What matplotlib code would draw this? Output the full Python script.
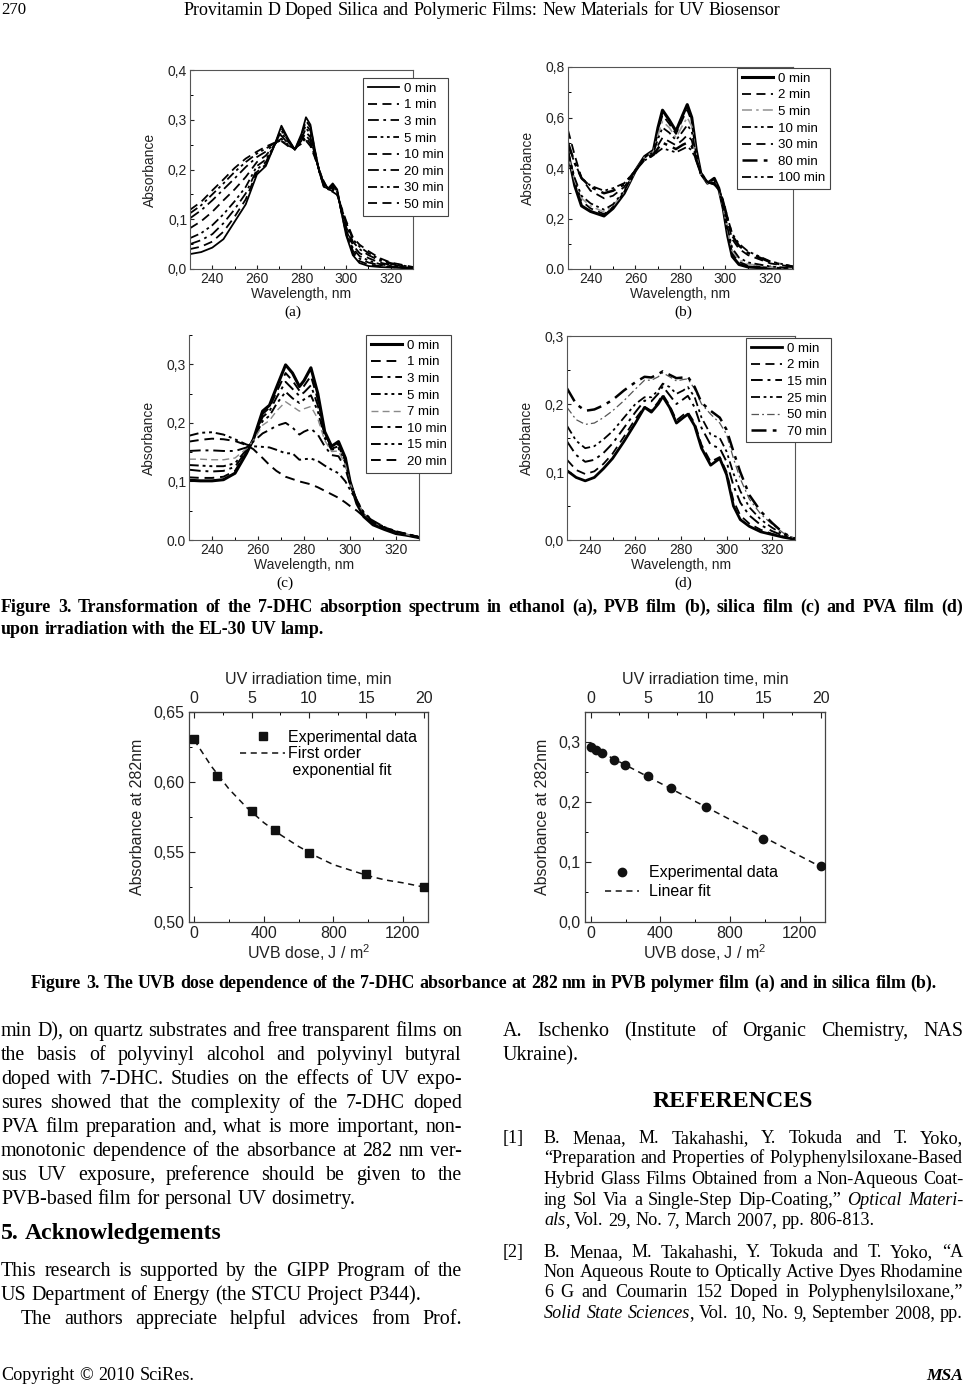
import matplotlib
matplotlib.use('Agg')
import matplotlib.pyplot as plt
from matplotlib.font_manager import FontProperties
from matplotlib.lines import Line2D
from matplotlib.ticker import MultipleLocator
import numpy as np

# ---------------- data ----------------
X_TICKS = [240, 260, 280, 300, 320]

# (a) ethanol
WL_A = [230, 235, 240, 245, 250, 255, 260, 264, 268, 271, 274, 277, 280, 282, 284,
        286, 288, 290, 292, 294, 296, 298, 300, 303, 306, 310, 315, 320, 330]
TIME_A = ['0 min', '1 min', '3 min', '5 min', '10 min', '20 min', '30 min', '50 min']
SPEC_A = [
    [.030, .034, .043, .060, .095, .130, .190, .207, .250, .288, .262, .240, .272, .305, .290,
     .240, .195, .165, .162, .172, .160, .112, .068, .028, .012, .006, .004, .003, .001],
    [.040, .045, .055, .075, .105, .140, .195, .210, .250, .283, .260, .240, .268, .298, .285,
     .238, .195, .166, .162, .170, .158, .112, .072, .032, .016, .009, .006, .004, .001],
    [.050, .058, .070, .092, .120, .152, .200, .215, .250, .278, .258, .240, .265, .290, .278,
     .235, .196, .168, .162, .168, .157, .113, .076, .037, .021, .013, .008, .005, .002],
    [.062, .072, .088, .110, .136, .165, .207, .220, .250, .274, .256, .240, .262, .283, .272,
     .232, .196, .170, .161, .166, .155, .114, .080, .042, .026, .017, .010, .006, .002],
    [.082, .096, .115, .138, .160, .185, .215, .228, .250, .268, .252, .240, .258, .275, .265,
     .230, .197, .172, .161, .163, .153, .116, .085, .048, .032, .022, .013, .008, .003],
    [.102, .118, .138, .160, .182, .205, .225, .236, .252, .262, .250, .241, .255, .268, .258,
     .228, .198, .174, .160, .160, .151, .119, .090, .055, .040, .028, .017, .010, .003],
    [.112, .128, .150, .172, .195, .215, .232, .242, .253, .259, .248, .242, .253, .263, .252,
     .226, .198, .175, .160, .157, .150, .121, .094, .060, .045, .032, .020, .012, .003],
    [.119, .135, .158, .180, .203, .222, .236, .246, .254, .257, .247, .243, .252, .258, .247,
     .224, .198, .176, .160, .155, .149, .123, .097, .064, .049, .036, .022, .013, .004],
]
Y_TICKS_A = [0.0, 0.1, 0.2, 0.3, 0.4]
Y_LABELS_A = ['0,0', '0,1', '0,2', '0,3', '0,4']

# (b) PVB film
WL_B = [230, 233, 236, 240, 246, 250, 255, 260, 264, 268, 270, 272, 275, 278, 281,
        283, 285, 287, 289, 292, 295, 297, 299, 301, 303, 306, 310, 320, 330]
TIME_B = ['0 min', '2 min', '5 min', '10 min', '30 min', '80 min', '100 min']
SPEC_B = [
    [.46, .33, .25, .228, .210, .240, .300, .390, .445, .470, .560, .629, .590, .546, .610,
     .651, .600, .470, .380, .340, .359, .320, .240, .130, .050, .018, .008, .003, .001],
    [.47, .35, .27, .240, .218, .245, .303, .390, .444, .468, .545, .610, .575, .535, .595,
     .630, .585, .462, .378, .340, .352, .318, .242, .140, .062, .028, .014, .005, .002],
    [.45, .35, .28, .250, .225, .250, .306, .390, .443, .465, .530, .585, .560, .520, .570,
     .600, .565, .452, .376, .340, .346, .316, .244, .150, .072, .036, .020, .007, .002],
    [.46, .36, .29, .260, .235, .256, .310, .390, .442, .462, .515, .560, .540, .510, .545,
     .570, .545, .445, .375, .341, .342, .315, .248, .160, .082, .045, .026, .010, .003],
    [.55, .45, .36, .310, .280, .290, .325, .390, .437, .455, .490, .520, .505, .490, .512,
     .530, .510, .437, .378, .343, .338, .318, .262, .185, .118, .080, .055, .022, .008],
    [.50, .42, .36, .325, .300, .310, .335, .390, .433, .452, .478, .500, .488, .475, .492,
     .500, .487, .432, .380, .344, .336, .316, .268, .195, .132, .092, .064, .027, .009],
    [.49, .42, .36, .330, .310, .320, .340, .390, .430, .450, .465, .478, .470, .462, .475,
     .484, .470, .430, .380, .345, .335, .315, .270, .200, .140, .100, .070, .030, .010],
]
Y_TICKS_B = [0.0, 0.2, 0.4, 0.6, 0.8]
Y_LABELS_B = ['0.0', '0,2', '0,4', '0,6', '0,8']

# (c) silica film
WL_C = [230, 235, 240, 245, 250, 255, 258, 262, 265, 268, 272, 275, 278, 280,
        283, 286, 289, 292, 295, 298, 300, 303, 306, 310, 315, 320, 325, 330]
TIME_C = ['0 min', '1 min', '3 min', '5 min', '7 min', '10 min', '15 min', '20 min']
SPEC_C = [
    [.102, .101, .101, .103, .114, .148, .172, .220, .230, .260, .299, .285, .262, .272,
     .294, .250, .185, .160, .168, .140, .100, .062, .040, .026, .018, .011, .008, .004],
    [.107, .106, .106, .108, .118, .150, .172, .215, .226, .252, .285, .272, .255, .263,
     .280, .240, .182, .158, .164, .138, .100, .064, .042, .028, .019, .012, .008, .004],
    [.120, .118, .117, .118, .125, .152, .172, .210, .220, .243, .270, .258, .246, .252,
     .264, .230, .178, .156, .160, .135, .099, .065, .043, .029, .020, .013, .009, .004],
    [.128, .127, .126, .126, .131, .154, .171, .203, .212, .232, .253, .242, .234, .240,
     .247, .220, .174, .154, .157, .132, .098, .066, .044, .030, .021, .013, .009, .005],
    [.138, .138, .137, .137, .140, .156, .170, .196, .204, .220, .236, .228, .220, .224,
     .228, .207, .170, .151, .152, .128, .097, .067, .045, .031, .021, .014, .009, .005],
    [.152, .153, .153, .152, .152, .158, .168, .182, .188, .195, .200, .192, .180, .185,
     .190, .180, .160, .145, .143, .122, .095, .068, .046, .032, .022, .014, .010, .005],
    [.178, .183, .184, .180, .172, .163, .160, .159, .158, .154, .148, .148, .137, .138,
     .139, .135, .127, .120, .114, .100, .086, .066, .047, .033, .022, .015, .010, .005],
    [.168, .171, .173, .172, .169, .162, .155, .140, .128, .118, .108, .104, .100, .098,
     .095, .090, .084, .078, .072, .064, .058, .050, .040, .030, .021, .014, .010, .005],
]
Y_TICKS_C = [0.0, 0.1, 0.2, 0.3]
Y_LABELS_C = ['0.0', '0,1', '0,2', '0,3']

# (d) PVA film
WL_D = [230, 234, 238, 242, 246, 250, 255, 260, 264, 267, 270, 272, 275, 278,
        281, 283, 286, 289, 293, 297, 300, 303, 306, 310, 315, 320, 325, 330]
TIME_D = ['0 min', '2 min', '15 min', '25 min', '50 min', '70 min']
SPEC_D = [
    [.102, .092, .087, .092, .105, .120, .145, .172, .195, .188, .200, .211, .195, .172,
     .180, .185, .168, .135, .110, .120, .096, .050, .030, .020, .012, .008, .004, .001],
    [.118, .103, .097, .101, .112, .127, .152, .178, .196, .190, .203, .214, .198, .176,
     .184, .188, .172, .140, .115, .122, .100, .058, .036, .024, .015, .009, .005, .001],
    [.145, .125, .115, .118, .128, .142, .165, .188, .205, .204, .215, .226, .213, .200,
     .207, .212, .195, .165, .140, .135, .115, .080, .055, .036, .022, .013, .006, .001],
    [.168, .146, .135, .138, .148, .160, .180, .200, .210, .210, .220, .230, .225, .215,
     .220, .225, .210, .180, .155, .150, .130, .098, .072, .048, .030, .018, .008, .002],
    [.195, .177, .170, .172, .180, .190, .205, .222, .235, .235, .240, .246, .240, .234,
     .236, .237, .222, .200, .185, .172, .155, .120, .090, .060, .038, .023, .010, .002],
    [.223, .200, .190, .192, .198, .206, .220, .232, .240, .239, .244, .248, .243, .238,
     .239, .240, .225, .202, .190, .180, .162, .130, .100, .066, .042, .025, .010, .002],
]
Y_TICKS_D = [0.0, 0.1, 0.2, 0.3]
Y_LABELS_D = ['0,0', '0,1', '0,2', '0,3']

# dose dependence
DOSE_PER_MIN = 66
DOSE_PVB = [0, 132, 330, 462, 660, 990, 1320]
ABS_PVB = [0.631, 0.604, 0.579, 0.566, 0.549, 0.534, 0.525]
FIT_DOSE_PVB = [0, 100, 200, 300, 400, 500, 600, 700, 800, 900, 1000, 1100, 1200, 1320]
FIT_ABS_PVB = [0.630, 0.611, 0.595, 0.582, 0.571, 0.562, 0.554, 0.547, 0.541, 0.537,
               0.533, 0.530, 0.528, 0.525]
DOSE_SIL = [0, 33, 66, 132, 198, 330, 462, 660, 990, 1320]
ABS_SIL = [0.292, 0.287, 0.282, 0.270, 0.262, 0.244, 0.223, 0.191, 0.139, 0.094]

# ---------------- page text ----------------
HEADER = 'Provitamin D Doped Silica and Polymeric Films: New Materials for UV Biosensor'
CAP1 = ['Figure 3. Transformation of the 7-DHC absorption spectrum in ethanol (a), PVB film (b), silica film (c) and PVA film (d)',
        'upon irradiation with the EL-30 UV lamp.']
CAP2 = 'Figure 3. The UVB dose dependence of the 7-DHC absorbance at 282 nm in PVB polymer film (a) and in silica film (b).'
PARA1 = ['min D), on quartz substrates and free transparent films on',
         'the basis of polyvinyl alcohol and polyvinyl butyral',
         'doped with 7-DHC. Studies on the effects of UV expo-',
         'sures showed that the complexity of the 7-DHC doped',
         'PVA film preparation and, what is more important, non-',
         'monotonic dependence of the absorbance at 282 nm ver-',
         'sus UV exposure, preference should be given to the',
         'PVB-based film for personal UV dosimetry.']
PARA2 = ['This research is supported by the GIPP Program of the',
         'US Department of Energy (the STCU Project P344).']
PARA3 = 'The authors appreciate helpful advices from Prof.'
RIGHT1 = ['A. Ischenko (Institute of Organic Chemistry, NAS', 'Ukraine).']
REF1 = ['B. Menaa, M. Takahashi, Y. Tokuda and T. Yoko,',
        '“Preparation and Properties of Polyphenylsiloxane-Based',
        'Hybrid Glass Films Obtained from a Non-Aqueous Coat-',
        'ing Sol Via a Single-Step Dip-Coating,” *Optical* *Materi-*',
        '*als*, Vol. 29, No. 7, March 2007, pp. 806-813.']
REF2 = ['B. Menaa, M. Takahashi, Y. Tokuda and T. Yoko, “A',
        'Non Aqueous Route to Optically Active Dyes Rhodamine',
        '6 G and Coumarin 152 Doped in Polyphenylsiloxane,”',
        '*Solid* *State* *Sciences*, Vol. 10, No. 9, September 2008, pp.']

# ---------------- setup ----------------
W, H = 965, 1386
SERIF = 'Liberation Serif'
plt.rcParams['font.family'] = ['Liberation Sans', 'DejaVu Sans']
plt.rcParams['mathtext.fontset'] = 'custom'
plt.rcParams['mathtext.rm'] = 'Liberation Sans'
plt.rcParams['xtick.direction'] = 'in'
plt.rcParams['ytick.direction'] = 'in'

fig = plt.figure(figsize=(W / 100, H / 100), dpi=100)
renderer = fig.canvas.get_renderer()


def px_axes(l, t, r, b):
    return fig.add_axes([l / W, 1 - b / H, (r - l) / W, (b - t) / H])


def text_w(s, prop):
    return renderer.get_text_width_height_descent(s, prop, ismath=False)[0]


def props(size, weight, ital):
    return FontProperties(family=SERIF, size=size, weight=weight,
                          style='italic' if ital else 'normal')


def seg_split(word):
    out, ital = [], False
    for i, part in enumerate(word.split('*')):
        if i:
            ital = not ital
        if part:
            out.append((part, ital))
    return out


def word_w(sg, size, weight):
    return sum(text_w(t, props(size, weight, i)) for t, i in sg)


def line_w(line, size, weight='normal'):
    segs = [seg_split(w) for w in line.split(' ')]
    return sum(word_w(s, size, weight) for s in segs) + 0.25 * size * 100 / 72 * (len(segs) - 1)


def fit(line, target, weight='normal'):
    return 10 * target / line_w(line, 10, weight)


def put_line(line, x0, y, size, weight='normal', x1=None, align='left'):
    segs = [seg_split(w) for w in line.split(' ')]
    ws = [word_w(s, size, weight) for s in segs]
    gap = 0.25 * size * 100 / 72
    if align == 'justify' and len(segs) > 1:
        gap = (x1 - x0 - sum(ws)) / (len(segs) - 1)
    total = sum(ws) + gap * (len(segs) - 1)
    x = x0
    if align == 'center':
        x = x0 - total / 2
    elif align == 'right':
        x = x0 - total
    base = y + 0.3 * size * 100 / 72
    for sg, w in zip(segs, ws):
        xx = x
        for t, i in sg:
            p = props(size, weight, i)
            fig.text(xx / W, 1 - base / H, t, fontproperties=p, va='baseline', ha='left')
            xx += text_w(t, p)
        x += w + gap


# ---------------- spectra ----------------
SOLID = '-'
DASH = (0, (5, 3))
DASHDOT = (0, (6, 2.5, 1.5, 2.5))
DDOT = (0, (5, 2, 1.5, 2, 1.5, 2))

STY_A = [(SOLID, 1.3, 'k'), (DASH, 1.3, 'k'), (DASHDOT, 1.3, 'k'), (DDOT, 1.3, 'k'),
         (DASH, 1.3, 'k'), (DASHDOT, 1.3, 'k'), (DDOT, 1.3, 'k'), (DASH, 1.3, 'k')]
STY_B = [(SOLID, 2.2, 'k'), (DASH, 1.3, 'k'), (DASHDOT, 1.2, '#9a9a9a'), (DDOT, 1.3, 'k'),
         (DASH, 1.3, 'k'), (DASHDOT, 1.8, 'k'), (DDOT, 1.3, 'k')]
STY_C = [(SOLID, 2.2, 'k'), (DASH, 1.4, 'k'), (DASHDOT, 1.4, 'k'), (DDOT, 1.4, 'k'),
         (DASH, 1.0, '#8a8a8a'), (DASHDOT, 1.4, 'k'), (DDOT, 1.4, 'k'), (DASH, 1.4, 'k')]
STY_D = [(SOLID, 2.0, 'k'), (DASH, 1.3, 'k'), (DASHDOT, 1.4, 'k'), (DDOT, 1.3, 'k'),
         (DASHDOT, 0.9, '#555555'), (DASHDOT, 1.8, 'k')]


def spectrum(box, wl, spec, times, styles, ymax, yticks, ylabels, leg_xy, letter, letter_xy):
    ax = px_axes(*box)
    for vals, lab, (ls, lw, c) in zip(spec, times, styles):
        ax.plot(wl, vals, label=lab, color=c, lw=lw, ls=ls)
    ax.set_xlim(230, 330)
    ax.set_ylim(0, ymax)
    ax.set_xticks(X_TICKS)
    ax.xaxis.set_minor_locator(MultipleLocator(10))
    ax.set_yticks(yticks)
    ax.set_yticklabels(ylabels)
    ax.yaxis.set_minor_locator(MultipleLocator((yticks[1] - yticks[0]) / 2))
    ax.tick_params(labelsize=10, length=3, width=0.8, pad=2, colors='#222222')
    ax.tick_params(which='minor', length=2, width=0.7)
    ax.set_xlabel('Wavelength, nm', fontsize=10, labelpad=1, color='#222222')
    ax.set_ylabel('Absorbance', fontsize=10, labelpad=8, color='#222222')
    for s in ax.spines.values():
        s.set_linewidth(0.8)
        s.set_color('#555555')
    leg = ax.legend(loc='upper left', bbox_to_anchor=(leg_xy[0] / W, 1 - leg_xy[1] / H),
                    bbox_transform=fig.transFigure, fontsize=9.5, frameon=True, fancybox=False,
                    edgecolor='#444444', framealpha=1, handlelength=2.4, handletextpad=0.35,
                    labelspacing=0.33, borderpad=0.35, borderaxespad=0)
    leg.get_frame().set_linewidth(0.8)
    fig.text(letter_xy[0] / W, 1 - letter_xy[1] / H, letter, family=SERIF, fontsize=11,
             ha='center', va='center')
    return ax


spectrum((190, 70, 413, 269), WL_A, SPEC_A, TIME_A, STY_A, 0.4, Y_TICKS_A, Y_LABELS_A,
         (363, 78), '(a)', (293, 312))
spectrum((568, 67, 793, 269), WL_B, SPEC_B, TIME_B, STY_B, 0.8, Y_TICKS_B, Y_LABELS_B,
         (737, 68), '(b)', (683, 312))
ax_c = spectrum((189, 335, 419, 540), WL_C, SPEC_C, TIME_C, STY_C, 0.35, Y_TICKS_C, Y_LABELS_C,
                (366, 335), '(c)', (285, 583))
ax_c.spines['top'].set_visible(False)
spectrum((567, 336, 795, 540), WL_D, SPEC_D, TIME_D, STY_D, 0.3, Y_TICKS_D, Y_LABELS_D,
         (746, 338), '(d)', (683, 583))


# ---------------- dose dependence ----------------
def dose_axes(box, ylim, yticks, ylabels):
    ax = px_axes(*box)
    ax.set_xlim(-30, 1345)
    ax.set_ylim(*ylim)
    ax.set_xticks([0, 400, 800, 1200])
    ax.xaxis.set_minor_locator(MultipleLocator(200))
    ax.set_yticks(yticks)
    ax.set_yticklabels(ylabels)
    ax.yaxis.set_minor_locator(MultipleLocator((yticks[1] - yticks[0]) / 2))
    ax.tick_params(labelsize=11.5, length=4, width=0.8, pad=3, colors='#222222')
    ax.tick_params(which='minor', length=2.5, width=0.7)
    ax.set_xlabel('UVB dose, J / m$^2$', fontsize=11.5, labelpad=1, color='#222222')
    ax.set_ylabel('Absorbance at 282nm', fontsize=11.5, labelpad=6.5, color='#222222')
    for s in ax.spines.values():
        s.set_linewidth(0.9)
        s.set_color('#444444')
    top = ax.secondary_xaxis('top', functions=(lambda d: d / DOSE_PER_MIN,
                                               lambda t: t * DOSE_PER_MIN))
    top.set_xticks([0, 5, 10, 15, 20])
    top.xaxis.set_minor_locator(MultipleLocator(2.5))
    top.tick_params(labelsize=11.5, length=4, width=0.8, pad=4, colors='#222222', direction='in')
    top.tick_params(which='minor', length=2.5, width=0.7, direction='in')
    top.set_xlabel('UV irradiation time, min', fontsize=11.5, labelpad=5, color='#222222')
    return ax


ax5 = dose_axes((189, 712, 428, 922), (0.50, 0.65), [0.50, 0.55, 0.60, 0.65],
                ['0,50', '0,55', '0,60', '0,65'])
ax5.plot(DOSE_PVB, ABS_PVB, 's', color='#111111', ms=5.2, label='Experimental data', zorder=3)
ax5.plot(FIT_DOSE_PVB, FIT_ABS_PVB, ls=(0, (4, 3)), color='#111111', lw=1.1, label='First order')
blank = Line2D([], [], ls='none')
h, l = ax5.get_legend_handles_labels()
ax5.legend(h + [blank], l + [' exponential fit'], loc='center left',
           bbox_to_anchor=(0.215, 0.80), fontsize=11.5, frameon=False, handlelength=2.8,
           handletextpad=0.15, labelspacing=0.12, borderpad=0, borderaxespad=0)

ax6 = dose_axes((585, 712, 825, 922), (0.0, 0.35), [0.0, 0.1, 0.2, 0.3],
                ['0,0', '0,1', '0,2', '0,3'])
ax6.set_xlim(-33, 1345)
ax6.plot(DOSE_SIL, ABS_SIL, 'o', color='#111111', ms=6, label='Experimental data', zorder=3)
k, b0 = np.polyfit(DOSE_SIL, ABS_SIL, 1)
span = np.array([min(DOSE_SIL), max(DOSE_SIL)])
ax6.plot(span, k * span + b0, ls=(0, (4, 3)), color='#111111', lw=1.1, label='Linear fit')
ax6.legend(loc='center left', bbox_to_anchor=(0.085, 0.19), fontsize=11.5, frameon=False,
           handlelength=2.1, handletextpad=0.6, labelspacing=0.25, borderpad=0, borderaxespad=0)

# ---------------- page text ----------------
put_line('270', 1, 9, fit('270', 25))
put_line(HEADER, 482, 10, fit(HEADER, 597), align='center')

s_cap = fit(CAP1[1], 324, 'bold')
put_line(CAP1[0], 1, 607, s_cap, 'bold', x1=963, align='justify')
put_line(CAP1[1], 1, 629, s_cap, 'bold')
put_line(CAP2, 484, 983, fit(CAP2, 907, 'bold'), 'bold', align='center')

s_body = fit(PARA1[-1], 352)
ys = [1030, 1054, 1078, 1102, 1126, 1150, 1174, 1198]
for i, (ln, y) in enumerate(zip(PARA1, ys)):
    put_line(ln, 1, y, s_body, x1=462, align='left' if i == len(PARA1) - 1 else 'justify')
put_line('5. Acknowledgements', 1, 1232, fit('5. Acknowledgements', 221, 'bold'), 'bold')
put_line(PARA2[0], 1, 1270, s_body, x1=462, align='justify')
put_line(PARA2[1], 1, 1294, s_body)
put_line(PARA3, 21, 1318, s_body, x1=462, align='justify')

put_line(RIGHT1[0], 503, 1030, s_body, x1=963, align='justify')
put_line(RIGHT1[1], 503, 1054, s_body)
put_line('REFERENCES', 733, 1100, fit('REFERENCES', 160, 'bold'), 'bold', align='center')

s_ref = fit(REF1[-1], 329)
for i, (ln, y) in enumerate(zip(REF1, [1138, 1158, 1179, 1200, 1220])):
    put_line(ln, 544, y, s_ref, x1=963, align='left' if i == len(REF1) - 1 else 'justify')
put_line('[1]', 503, 1138, s_ref)
for ln, y in zip(REF2, [1252, 1272, 1292, 1313]):
    put_line(ln, 544, y, s_ref, x1=963, align='justify')
put_line('[2]', 503, 1252, s_ref)

put_line('Copyright © 2010 SciRes.', 1, 1375, s_ref, x1=195, align='justify')
put_line('*MSA*', 963, 1375, fit('*MSA*', 37, 'bold'), 'bold', align='right')

fig.savefig('out.png', dpi=100)
